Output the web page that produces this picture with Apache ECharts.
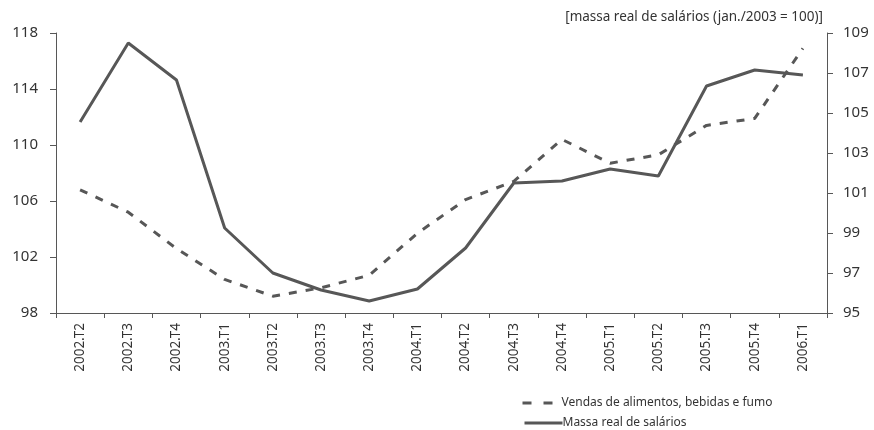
<!DOCTYPE html>
<html>
<head>
<meta charset="utf-8">
<script src="https://cdn.jsdelivr.net/npm/echarts@6/dist/echarts.min.js"></script>
<style>
html,body{margin:0;padding:0;background:#fff;}
#chart{width:874px;height:430px;}
</style>
</head>
<body>
<div id="chart"></div>
<script>
var categories = ['2002.T2','2002.T3','2002.T4','2003.T1','2003.T2','2003.T3','2003.T4','2004.T1','2004.T2','2004.T3','2004.T4','2005.T1','2005.T2','2005.T3','2005.T4','2006.T1'];
var vendas = [106.8, 105.2, 102.6, 100.4, 99.2, 99.8, 100.7, 103.7, 106.1, 107.4, 110.4, 108.7, 109.3, 111.4, 111.9, 116.9];
var massa = [104.55, 108.5, 106.65, 99.25, 97.0, 96.15, 95.6, 96.2, 98.25, 101.5, 101.6, 102.2, 101.85, 106.35, 107.15, 106.9];
var leftTicks = {min: 98, max: 118, interval: 4};
var rightTicks = {min: 95, max: 109, interval: 2};
var nameVendas = 'Vendas de alimentos, bebidas e fumo';
var nameMassa = 'Massa real de salários';
var rightTitle = '[massa real de salários (jan./2003 = 100)]';

var FONT = 'Noto Sans';
var C = '#575757';
var chart = echarts.init(document.getElementById('chart'));
chart.setOption({
  animation: false,
  textStyle: {fontFamily: FONT},
  grid: {left: 56, right: 47, top: 33, bottom: 117},
  graphic: [{
    type: 'text', right: 51, top: 10,
    style: {text: rightTitle, font: '13.5px "Noto Sans"', fill: '#333'}
  }],
  legend: [{
    data: [nameVendas], orient: 'vertical', left: 516, top: 392,
    itemWidth: 34, itemHeight: 10,
    itemStyle: {opacity: 0},
    lineStyle: {width: 3, type: [9, 12]},
    textStyle: {fontSize: 12, color: '#333', fontFamily: FONT}
  },{
    data: [nameMassa], orient: 'vertical', left: 518, top: 412,
    itemWidth: 38, itemHeight: 10,
    itemStyle: {opacity: 0},
    lineStyle: {width: 3},
    textStyle: {fontSize: 12, color: '#333', fontFamily: FONT, padding: [0,0,0,-5]}
  }],
  xAxis: {
    type: 'category', data: categories, boundaryGap: true,
    axisLine: {lineStyle: {color: C, width: 1}},
    axisTick: {show: true, length: 5, lineStyle: {color: C}},
    axisLabel: {rotate: 90, fontSize: 13.5, color: '#333', margin: 10, interval: 0}
  },
  yAxis: [{
    type: 'value', min: leftTicks.min, max: leftTicks.max, interval: leftTicks.interval,
    axisLine: {show: true, lineStyle: {color: C}},
    axisTick: {show: true, length: 6, lineStyle: {color: C}},
    axisLabel: {fontSize: 15, color: '#333', margin: 18},
    splitLine: {show: false}
  },{
    type: 'value', position: 'right', min: rightTicks.min, max: rightTicks.max, interval: rightTicks.interval,
    axisLine: {show: true, lineStyle: {color: C}},
    axisTick: {show: true, length: 6, lineStyle: {color: C}},
    axisLabel: {fontSize: 15, color: '#333', margin: 16},
    splitLine: {show: false}
  }],
  series: [{
    name: nameVendas, type: 'line', yAxisIndex: 0, data: vendas,
    symbol: 'none', smooth: false,
    lineStyle: {color: C, width: 3, type: [8, 9]},
    itemStyle: {color: C}
  },{
    name: nameMassa, type: 'line', yAxisIndex: 1, data: massa,
    symbol: 'none', smooth: false,
    lineStyle: {color: C, width: 3, type: 'solid'},
    itemStyle: {color: C}
  }]
});
</script>
</body>
</html>
